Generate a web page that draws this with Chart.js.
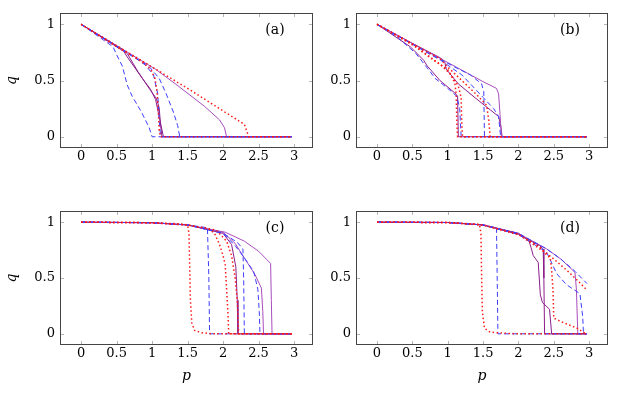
<!DOCTYPE html>
<html>
<head>
<meta charset="utf-8">
<script src="https://cdn.jsdelivr.net/npm/chart.js@4.4.1/dist/chart.umd.min.js"></script>
<style>
  body { margin: 0; background: #fff; width: 621px; height: 393px; position: relative; overflow: hidden; }
  canvas { position: absolute; }
</style>
</head>
<body>
<canvas id="chartA" width="320" height="175" style="left:0;top:0"></canvas>
<canvas id="chartB" width="301" height="175" style="left:320px;top:0"></canvas>
<canvas id="chartC" width="320" height="203" style="left:0;top:190px"></canvas>
<canvas id="chartD" width="301" height="203" style="left:320px;top:190px"></canvas>
<script>
// tick labels
const xTicks = [0, 0.5, 1, 1.5, 2, 2.5, 3];
const yTicks = [0, 0.5, 1];

// panel (a): [p, q] pairs
const aRed1 = [[0,1],[0.5,0.81],[1,0.62],[1.5,0.43],[2,0.23],[2.3,0.11],[2.34,0.04],[2.36,0],[2.97,0]];
const aRed2 = [[0,1],[0.5,0.8],[0.85,0.67],[0.98,0.6],[1.04,0.52],[1.07,0.4],[1.09,0.2],[1.1,0.06],[1.12,0],[2.97,0]];
const aBlue1 = [[0,1],[0.45,0.8],[0.5,0.73],[0.58,0.63],[0.65,0.46],[0.72,0.36],[0.85,0.22],[0.96,0.08],[1,0],[2.97,0]];
const aBlue2 = [[0,1],[0.6,0.76],[0.95,0.63],[1.1,0.52],[1.2,0.38],[1.3,0.22],[1.36,0.1],[1.39,0],[2.97,0]];
const aBlue3 = [[0,1],[0.7,0.73],[0.9,0.64],[1.02,0.55],[1.08,0.38],[1.1,0.15],[1.12,0],[2.97,0]];
const aPur1 = [[0,1],[0.6,0.77],[0.65,0.74],[0.8,0.58],[0.98,0.41],[1.06,0.34],[1.1,0.26],[1.12,0.1],[1.14,0],[2.97,0]];
const aPur2 = [[0,1],[0.6,0.76],[0.65,0.71],[0.85,0.53],[0.98,0.42],[1.05,0.33],[1.1,0.18],[1.14,0.06],[1.16,0],[2.97,0]];
const aPur3 = [[0,1],[0.5,0.81],[1.05,0.6],[1.35,0.46],[1.74,0.27],[1.95,0.15],[2.02,0.08],[2.05,0],[2.97,0]];

// panel (b)
const bRed1 = [[0,1],[0.5,0.82],[0.8,0.68],[1,0.6],[1.1,0.48],[1.12,0.38],[1.13,0.1],[1.14,0],[2.97,0]];
const bRed2 = [[0,1],[0.6,0.78],[0.9,0.64],[1.05,0.55],[1.15,0.45],[1.19,0.35],[1.2,0.1],[1.21,0],[2.97,0]];
const bRed3 = [[0,1],[0.9,0.69],[1,0.62],[1.2,0.5],[1.4,0.38],[1.55,0.28],[1.58,0.15],[1.6,0],[2.97,0]];
const bBlue1 = [[0,1],[0.3,0.88],[0.55,0.74],[0.75,0.58],[0.82,0.52],[1,0.43],[1.13,0.36],[1.17,0.25],[1.19,0],[2.97,0]];
const bBlue2 = [[0,1],[0.8,0.72],[1.13,0.61],[1.32,0.55],[1.48,0.47],[1.51,0.4],[1.52,0],[2.97,0]];
const bBlue3 = [[0,1],[0.9,0.68],[1.2,0.55],[1.5,0.35],[1.65,0.25],[1.72,0.18],[1.74,0.05],[1.75,0],[2.97,0]];
const bPur1 = [[0,1],[0.5,0.83],[1,0.66],[1.5,0.49],[1.69,0.43],[1.72,0.38],[1.74,0.2],[1.76,0],[2.97,0]];
const bPur2 = [[0,1],[0.5,0.83],[0.9,0.7],[0.96,0.66],[0.98,0.6],[1.15,0.47],[1.4,0.34],[1.6,0.24],[1.72,0.18],[1.75,0.1],[1.77,0],[2.97,0]];
const bPur3 = [[0,1],[0.47,0.8],[0.52,0.77],[0.66,0.68],[0.71,0.63],[0.89,0.5],[1.1,0.39],[1.14,0.36],[1.15,0],[2.97,0]];

// panel (c)
const cRed1 = [[0,1],[1,0.995],[1.4,0.985],[1.5,0.975],[1.52,0.9],[1.53,0.6],[1.54,0.3],[1.56,0.1],[1.6,0.03],[1.7,0.01],[1.85,0],[2.97,0]];
const cRed2 = [[0,1],[1,0.995],[1.5,0.975],[1.8,0.94],[1.88,0.9],[1.95,0.8],[2,0.7],[2.03,0.62],[2.05,0.4],[2.07,0.17],[2.08,0],[2.97,0]];
const cRed3 = [[0,1],[1,0.995],[1.5,0.975],[1.9,0.93],[2.05,0.83],[2.12,0.7],[2.17,0.5],[2.2,0.3],[2.22,0],[2.97,0]];
const cBlue1 = [[0,1],[1,0.995],[1.5,0.975],[1.78,0.95],[1.8,0.5],[1.81,0],[2.97,0]];
const cBlue2 = [[0,1],[1,0.995],[1.5,0.975],[2,0.9],[2.2,0.82],[2.28,0.76],[2.29,0.5],[2.3,0],[2.97,0]];
const cBlue3 = [[0,1],[1,0.995],[1.5,0.975],[2,0.9],[2.17,0.79],[2.3,0.68],[2.43,0.56],[2.49,0.4],[2.51,0.2],[2.52,0],[2.97,0]];
const cPur1 = [[0,1],[1,0.995],[1.5,0.975],[2,0.9],[2.12,0.8],[2.18,0.6],[2.2,0.3],[2.21,0],[2.97,0]];
const cPur2 = [[0,1],[1,0.995],[1.5,0.975],[2,0.91],[2.17,0.81],[2.3,0.68],[2.45,0.53],[2.54,0.41],[2.56,0.2],[2.57,0],[2.97,0]];
const cPur3 = [[0,1],[1,0.995],[1.5,0.975],[2.03,0.91],[2.3,0.83],[2.5,0.74],[2.67,0.63],[2.68,0.3],[2.69,0],[2.97,0]];

// panel (d)
const dRed1 = [[0,1],[1,0.997],[1.45,0.98],[1.47,0.9],[1.48,0.5],[1.49,0.2],[1.52,0.05],[1.6,0.015],[1.8,0.005],[2,0],[2.97,0]];
const dRed2 = [[0,1],[1,0.997],[1.5,0.975],[2,0.89],[2.3,0.78],[2.38,0.72],[2.45,0.68],[2.47,0.57],[2.49,0.38],[2.5,0.14],[2.64,0.1],[2.83,0.05],[2.94,0.006],[2.97,0]];
const dRed3 = [[0,1],[1,0.997],[1.5,0.975],[2,0.89],[2.4,0.72],[2.5,0.67],[2.7,0.56],[2.85,0.47],[2.97,0.39]];
const dBlue1 = [[0,1],[1,0.997],[1.5,0.975],[1.69,0.95],[1.7,0.5],[1.71,0],[2.97,0]];
const dBlue2 = [[0,1],[1,0.997],[1.5,0.975],[2,0.89],[2.4,0.73],[2.54,0.54],[2.68,0.44],[2.87,0.36],[2.91,0.15],[2.92,0],[2.97,0]];
const dBlue3 = [[0,1],[1,0.997],[1.5,0.975],[2,0.9],[2.4,0.76],[2.6,0.67],[2.8,0.56],[2.97,0.45]];
const dPur1 = [[0,1],[1,0.997],[1.5,0.975],[2,0.9],[2.15,0.83],[2.18,0.77],[2.21,0.7],[2.28,0.64],[2.31,0.35],[2.34,0.28],[2.44,0.22],[2.47,0],[2.97,0]];
const dPur2 = [[0,1],[1,0.997],[1.5,0.975],[2,0.89],[2.3,0.79],[2.35,0.76],[2.36,0.5],[2.37,0],[2.97,0]];
const dPur3 = [[0,1],[1,0.997],[1.5,0.975],[2,0.9],[2.4,0.76],[2.6,0.67],[2.8,0.55],[2.82,0.4],[2.84,0],[2.97,0]];

// line styles
const RED = { borderColor: '#ff1a1a', borderDash: [1.5, 2.5], borderWidth: 1.5 };
const BLUE = { borderColor: '#3d3dff', borderDash: [5, 3], borderWidth: 1 };
const PUR = { borderColor: '#8b1c8b', borderDash: [], borderWidth: 1 };
const PUR2 = { borderColor: '#a84cbc', borderDash: [], borderWidth: 1 };

const serif = '"DejaVu Serif", serif';

// ticks inside the box on all sides, frame and panel label
const framePlugin = {
  id: 'panelFrame',
  afterDraw(chart, args, opts) {
    const { ctx, chartArea: { left, top, right, bottom }, scales: { x, y } } = chart;
    ctx.save();
    ctx.strokeStyle = '#b4b4b4';
    ctx.lineWidth = 1;
    ctx.beginPath();
    xTicks.forEach(v => {
      const px = Math.round(x.getPixelForValue(v)) + 0.5;
      ctx.moveTo(px, bottom); ctx.lineTo(px, bottom - 4);
      ctx.moveTo(px, top); ctx.lineTo(px, top + 4);
    });
    yTicks.forEach(v => {
      const py = Math.round(y.getPixelForValue(v)) + 0.5;
      ctx.moveTo(left, py); ctx.lineTo(left + 4, py);
      ctx.moveTo(right, py); ctx.lineTo(right - 4, py);
    });
    ctx.stroke();
    ctx.strokeStyle = '#454545';
    ctx.strokeRect(left + 0.5, top + 0.5, right - left - 1, bottom - top - 1);
    ctx.fillStyle = '#000';
    ctx.font = '14px ' + serif;
    ctx.textAlign = 'center';
    ctx.textBaseline = 'middle';
    ctx.fillText(opts.label, right - 38, top + 17);
    ctx.restore();
  }
};

const makePanel = (id, label, series, box) => {
  new Chart(document.getElementById(id), {
    type: 'line',
    data: {
      datasets: series.map(([pts, style]) => ({
        data: pts.map(([x, y]) => ({ x, y })),
        ...style,
        pointRadius: 0,
        tension: 0,
        fill: false
      }))
    },
    options: {
      responsive: false,
      animation: false,
      events: [],
      layout: { autoPadding: false, padding: { left: 0, top: box.top, right: box.right, bottom: 0 } },
      plugins: {
        legend: { display: false },
        tooltip: { enabled: false },
        panelFrame: { label: label }
      },
      scales: {
        x: {
          type: 'linear',
          min: -0.297,
          max: 3.267,
          afterBuildTicks: axis => { axis.ticks = xTicks.map(v => ({ value: v })); },
          afterFit: axis => { axis.height = box.xh; },
          grid: { display: false, drawTicks: false },
          border: { display: false },
          ticks: { color: '#000', padding: 1, maxRotation: 0, font: { family: serif, size: 13 }, callback: v => String(v) },
          title: { display: box.xTitle, text: 'p', color: '#000', padding: { top: 0, bottom: 8 }, font: { family: serif, size: 14, style: 'italic' } }
        },
        y: {
          type: 'linear',
          min: -0.1,
          max: 1.1,
          afterBuildTicks: axis => { axis.ticks = yTicks.map(v => ({ value: v })); },
          afterFit: axis => { axis.width = box.yw; },
          grid: { display: false, drawTicks: false },
          border: { display: false },
          ticks: { color: '#000', padding: 5, font: { family: serif, size: 13 }, callback: v => String(v) },
          title: { display: box.yTitle, text: 'q', color: '#000', padding: { top: 4, bottom: 0 }, font: { family: serif, size: 14, style: 'italic' } }
        }
      }
    },
    plugins: [framePlugin]
  });
};

makePanel('chartA', '(a)', [
  [aRed1, RED], [aRed2, RED], [aBlue1, BLUE], [aBlue2, BLUE], [aBlue3, BLUE],
  [aPur1, PUR], [aPur2, PUR], [aPur3, PUR2]
], { top: 13, right: 7, xh: 27, yw: 60, xTitle: false, yTitle: true });

makePanel('chartB', '(b)', [
  [bRed1, RED], [bRed2, RED], [bRed3, RED], [bBlue1, BLUE], [bBlue2, BLUE], [bBlue3, BLUE],
  [bPur1, PUR2], [bPur2, PUR], [bPur3, PUR]
], { top: 13, right: 13, xh: 27, yw: 36, xTitle: false, yTitle: false });

makePanel('chartC', '(c)', [
  [cRed1, RED], [cRed2, RED], [cRed3, RED], [cBlue1, BLUE], [cBlue2, BLUE], [cBlue3, BLUE],
  [cPur1, PUR], [cPur2, PUR2], [cPur3, PUR2]
], { top: 21, right: 7, xh: 48, yw: 60, xTitle: true, yTitle: true });

makePanel('chartD', '(d)', [
  [dRed1, RED], [dRed2, RED], [dRed3, RED], [dBlue1, BLUE], [dBlue2, BLUE], [dBlue3, BLUE],
  [dPur1, PUR], [dPur2, PUR], [dPur3, PUR2]
], { top: 21, right: 13, xh: 48, yw: 36, xTitle: true, yTitle: false });
</script>
</body>
</html>
